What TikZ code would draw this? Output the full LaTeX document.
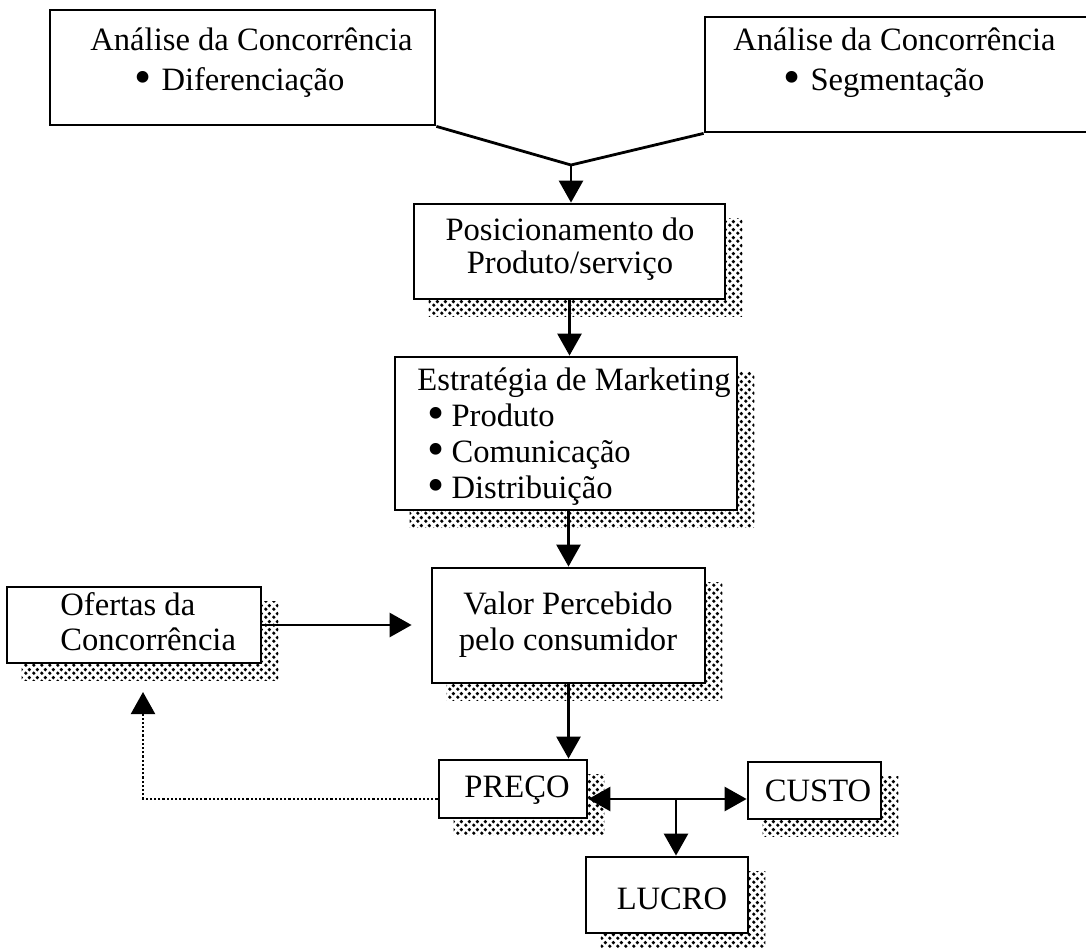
\documentclass[tikz,border=0pt]{standalone}
\usepackage{fontspec}
\setmainfont{Liberation Serif}
\usetikzlibrary{arrows.meta,fit,backgrounds,patterns,calc}

\pgfdeclarepatternformonly{sdots}{\pgfqpoint{0pt}{0pt}}{\pgfqpoint{4pt}{4pt}}{\pgfqpoint{4pt}{4pt}}{%
  \pgfpathcircle{\pgfqpoint{1pt}{1pt}}{1pt}%
  \pgfpathcircle{\pgfqpoint{3pt}{3pt}}{1pt}%
  \pgfusepath{fill}}

\newcommand{\bul}[1]{\smash{\raisebox{-1.4pt}{\scalebox{1.5}{\textbullet}}}\hspace{#1}}

\begin{document}
\begin{tikzpicture}[x=0.5pt,y=-0.5pt,
  box/.style={draw, line width=1.4pt, fill=white, inner sep=0pt},
  txt/.style={inner sep=0pt, align=left, anchor=west},
  ctxt/.style={inner sep=0pt, align=center},
  ln/.style={line width=1.4pt},
  arr/.style={line width=1.4pt, -{Triangle[length=11pt,width=12pt]}},
  dbl/.style={line width=1.4pt, {Triangle[length=11pt,width=12pt]}-{Triangle[length=11pt,width=12pt]}},
  dotarr/.style={line width=1.1pt, densely dotted, -{Triangle[length=11pt,width=12pt]}},
  shadowfill/.style={pattern=sdots, pattern color=black},
  every node/.style={font=\fontsize{16.3}{18}\selectfont}
]
\useasboundingbox (0,0) rectangle (1086,947);

% boxes
\node[box, fit={(50,10) (435,125)}] (b1) {};
\node[box, fit={(705,17) (1092,132)}] (b2) {};
\node[box, fit={(414,204) (725,299)}] (pos) {};
\node[box, fit={(395,357) (737,510)}] (estr) {};
\node[box, fit={(432,568) (705,683)}] (valor) {};
\node[box, fit={(7,587) (261,663)}] (ofer) {};
\node[box, fit={(439,760) (587,818)}] (preco) {};
\node[box, fit={(748,762) (881,819)}] (custo) {};
\node[box, fit={(586,857) (748,933)}] (lucro) {};

% texts inside boxes
\node[txt, font=\fontsize{16.3}{20}\selectfont] (t1) at (90,63)
  {Análise da Concorrência\\\hspace{22pt}\bul{5pt}Diferenciação};
\node[txt, font=\fontsize{16.3}{20}\selectfont] (t2) at (733,63)
  {Análise da Concorrência\\\hspace{25pt}\bul{5pt}Segmentação};
\node[ctxt, font=\fontsize{16.3}{16.5}\selectfont] (t3) at (570,249)
  {Posicionamento do\\Produto/serviço};
\node[txt, font=\fontsize{16.3}{18}\selectfont] (t4) at (417,437)
  {Estratégia de Marketing\\\hspace{5pt}\bul{3.5pt}Produto\\\hspace{5pt}\bul{3.5pt}Comunicação\\\hspace{5pt}\bul{3.5pt}Distribuição};
\node[ctxt, font=\fontsize{16.3}{18}\selectfont] (t5) at (568,625)
  {Valor Percebido\\pelo consumidor};
\node[txt, font=\fontsize{16.3}{17.5}\selectfont] (t6) at (60,622)
  {Ofertas da\\Concorrência};
\node[ctxt] (t7) at (517,790) {PREÇO};
\node[ctxt] (t8) at (818,791) {CUSTO};
\node[ctxt] (t9) at (672,899) {LUCRO};

% shadows
\begin{scope}[on background layer]
  \foreach \n in {pos,estr,valor,ofer,preco,custo,lucro}
    \fill[shadowfill] ([shift={(8pt,-8pt)}]\n.south west) rectangle ([shift={(8pt,-8pt)}]\n.north east);
\end{scope}

% connectors
\coordinate (J) at (571,165);
\draw[ln] (b1.south east) -- (J) -- (b2.south west);
\draw[arr] (J) -- (J |- pos.north);
\draw[arr] (pos.south) -- (pos.south |- estr.north);
\draw[arr] (valor.north |- estr.south) -- (valor.north);
\draw[arr, shorten >=9.5pt] (ofer.east) -- (valor.west |- ofer.east);
\draw[arr] (valor.south) -- (valor.south |- preco.north);
\coordinate (K) at (676,799);
\draw[dbl] (preco.east |- K) -- (custo.west |- K);
\draw[arr] (K) -- (K |- lucro.north);
\coordinate (D) at (143,692);
\draw[dotarr] (preco.west |- K) -| (D);
\end{tikzpicture}
\end{document}
